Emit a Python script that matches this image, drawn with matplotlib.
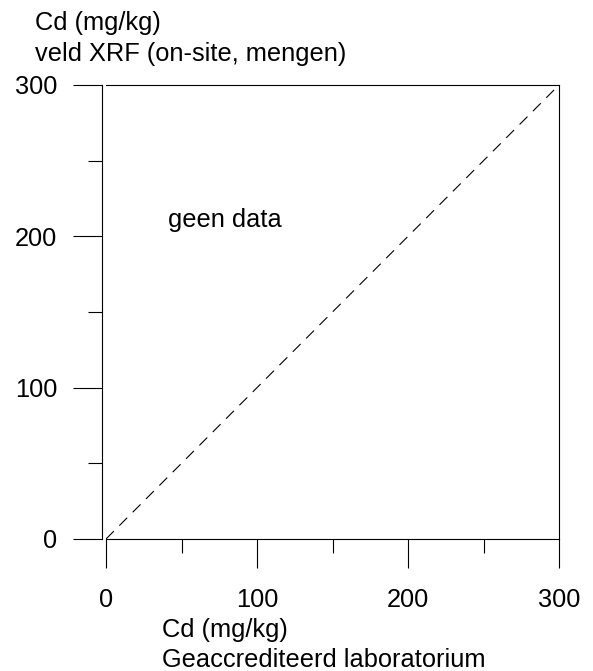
import matplotlib
matplotlib.use('Agg')
import matplotlib.pyplot as plt
from matplotlib.ticker import MultipleLocator

plt.rcParams['font.family'] = ['Liberation Sans', 'DejaVu Sans']

# data
x_ticks = [0, 100, 200, 300]
y_ticks = [0, 100, 200, 300]
line_x = [0, 300]
line_y = [0, 300]
y_label = ["Cd (mg/kg)", "veld XRF (on-site, mengen)"]
x_label = ["Cd (mg/kg)", "Geaccrediteerd laboratorium"]
note = "geen data"

fs = 18.3
W, H = 593, 671
fig = plt.figure(figsize=(W/100, H/100), dpi=100)
ax = fig.add_axes([106/W, 1-539/H, (559-106)/W, (539-85)/H])

ax.plot(line_x, line_y, color='black', lw=0.8, dashes=(10, 7))
ax.set_xlim(0, 300)
ax.set_ylim(0, 300)
ax.set_xticks(x_ticks)
ax.set_yticks(y_ticks)
ax.xaxis.set_minor_locator(MultipleLocator(50))
ax.yaxis.set_minor_locator(MultipleLocator(50))
ax.tick_params(which='major', direction='out', length=21, width=0.8, labelsize=fs)
ax.tick_params(axis='y', which='major', pad=11)
ax.tick_params(axis='x', which='major', pad=14)
ax.tick_params(which='minor', direction='out', length=10, width=0.8)
for s in ax.spines.values():
    s.set_linewidth(0.8)
ax.spines['left'].set_position(('outward', 3))

ax.text(41, 206, note, fontsize=fs, ha='left', va='baseline')
fig.text(35/W, 1-30/H, y_label[0], fontsize=fs, ha='left', va='baseline')
fig.text(35/W, 1-61/H, y_label[1], fontsize=fs, ha='left', va='baseline')
fig.text(162/W, 1-637/H, x_label[0], fontsize=fs, ha='left', va='baseline')
fig.text(162/W, 1-667/H, x_label[1], fontsize=fs, ha='left', va='baseline')

fig.savefig('out.png', dpi=100)
